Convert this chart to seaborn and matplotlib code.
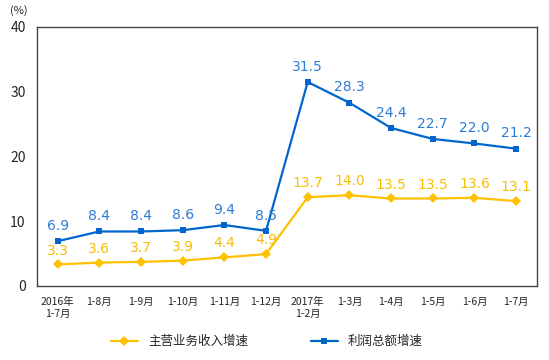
import matplotlib
matplotlib.use("Agg")
import matplotlib.pyplot as plt
import seaborn as sns
import pandas as pd
import numpy as np

sns.set_style("white")
plt.rcParams['font.family'] = ['Noto Sans CJK SC', 'DejaVu Sans']

months = ["2016年\n1-7月", "1-8月", "1-9月", "1-10月", "1-11月", "1-12月",
          "2017年\n1-2月", "1-3月", "1-4月", "1-5月", "1-6月", "1-7月"]
revenue = [3.3, 3.6, 3.7, 3.9, 4.4, 4.9, 13.7, 14.0, 13.5, 13.5, 13.6, 13.1]
profit = [6.9, 8.4, 8.4, 8.6, 9.4, 8.5, 31.5, 28.3, 24.4, 22.7, 22.0, 21.2]

yellow = "#FFC000"
blue = "#0066CC"

df = pd.DataFrame({"x": np.arange(len(months)), "revenue": revenue, "profit": profit})

fig = plt.figure(figsize=(5.49, 3.6), dpi=100)
ax = fig.add_axes([0.067, 0.206, 0.911, 0.719])

sns.lineplot(data=df, x="x", y="revenue", ax=ax, color=yellow, marker="D",
             markersize=5, markeredgewidth=0, linewidth=1.6, label="主营业务收入增速")
sns.lineplot(data=df, x="x", y="profit", ax=ax, color=blue, marker="s",
             markersize=5, markeredgewidth=0, linewidth=1.6, label="利润总额增速")

for i, v in enumerate(revenue):
    ax.annotate(f"{v:.1f}", (i, v), xytext=(0, 5), textcoords="offset points",
                ha="center", va="bottom", color="#F5C000", fontsize=10,
                family="DejaVu Sans")
for i, v in enumerate(profit):
    ax.annotate(f"{v:.1f}", (i, v), xytext=(0, 6), textcoords="offset points",
                ha="center", va="bottom", color="#2E7BD6", fontsize=10,
                family="DejaVu Sans")

ax.set_xlim(-0.5, len(months) - 0.5)
ax.set_ylim(0, 40)
ax.set_yticks([0, 10, 20, 30, 40])
ax.set_xticks(np.arange(len(months)))
ax.set_xticklabels(months, fontsize=7.5)
ax.set_xticks(np.arange(len(months) + 1) - 0.5, minor=True)
ax.tick_params(axis="x", which="major", length=0, pad=8)
ax.tick_params(axis="x", which="minor", direction="in", length=4, color="#333333")
ax.tick_params(axis="y", direction="in", length=3, labelsize=10, color="#333333", pad=8)
ax.set_xlabel("")
ax.set_ylabel("")
for s in ax.spines.values():
    s.set_visible(True)
    s.set_color("#444444")
    s.set_linewidth(1)

fig.text(0.018, 0.972, "(%)", fontsize=8, ha="left", va="center")

ax.legend(loc="center", bbox_to_anchor=(0.46, -0.215), ncol=2, frameon=False,
          fontsize=9, handlelength=2.2, columnspacing=5)

fig.savefig("out.png", dpi=100)
